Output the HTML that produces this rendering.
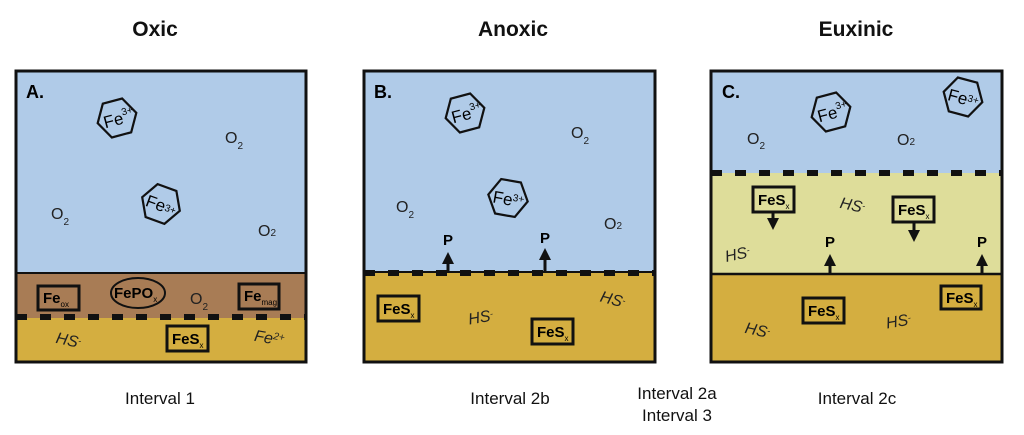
<!DOCTYPE html>
<html><head><meta charset="utf-8"><style>
html,body{margin:0;padding:0;background:#fff;}
svg{display:block;font-family:"Liberation Sans",sans-serif;}
.b{font-weight:bold;}
.t{font-size:21px;font-weight:bold;fill:#111;}
.c{font-size:17px;fill:#111;}
.s{font-size:16px;fill:#222;}
.bx{fill:none;stroke:#111;stroke-width:3;}
</style></head><body>
<svg width="1024" height="435" viewBox="0 0 1024 435">
<defs>
<marker id="ah" markerWidth="4" markerHeight="4" refX="2" refY="2" orient="auto" markerUnits="strokeWidth"><path d="M0,0 L4,2 L0,4 z" fill="#111"/></marker>
<g id="hex"><polygon points="-20,0 -10,-17.5 10,-17.5 20,0 10,17.5 -10,17.5" fill="none" stroke="#111" stroke-width="2.2"/></g>
</defs>
<text class="t" x="155" y="36" text-anchor="middle">Oxic</text>
<text class="t" x="513" y="36" text-anchor="middle">Anoxic</text>
<text class="t" x="856" y="36" text-anchor="middle">Euxinic</text>

<!-- Panel A -->
<rect x="16" y="71" width="290" height="202" fill="#b0cbe8"/>
<rect x="16" y="273" width="290" height="45" fill="#a87c55"/>
<rect x="16" y="318" width="290" height="44" fill="#d4ae40"/>
<line x1="16" y1="273" x2="306" y2="273" stroke="#111" stroke-width="2"/>
<line x1="16" y1="317" x2="306" y2="317" stroke="#111" stroke-width="6" stroke-dasharray="11,13"/>
<rect x="16" y="71" width="290" height="291" fill="none" stroke="#111" stroke-width="3"/>
<text x="26" y="98" class="b" font-size="18">A.</text>
<g transform="translate(117,118) rotate(-15)"><use href="#hex"/><text x="-14" y="7" font-size="17">Fe<tspan font-size="10" dy="-8">3+</tspan></text></g>
<g transform="translate(161,204) rotate(20)"><use href="#hex"/><text x="-15" y="7" font-size="17">Fe<tspan font-size="10" dy="-2">3+</tspan></text></g>
<text class="s" x="225" y="143">O<tspan font-size="10" dy="6">2</tspan></text>
<text class="s" x="51" y="219">O<tspan font-size="10" dy="6">2</tspan></text>
<text class="s" x="258" y="236">O<tspan font-size="10">2</tspan></text>
<rect class="bx" x="38" y="286" width="41" height="24"/><text x="43" y="303" class="b" font-size="15">Fe<tspan font-size="8" dy="4" font-weight="normal">ox</tspan></text>
<ellipse cx="138" cy="293" rx="27" ry="15" fill="none" stroke="#111" stroke-width="2"/><text x="114" y="298" class="b" font-size="15">FePO<tspan font-size="8" dy="4" font-weight="normal">x</tspan></text>
<text class="s" x="190" y="304">O<tspan font-size="10" dy="6">2</tspan></text>
<rect class="bx" x="239" y="284" width="40" height="25"/><text x="244" y="301" class="b" font-size="15">Fe<tspan font-size="8" dy="4" font-weight="normal">mag</tspan></text>
<text class="s" x="56" y="345" transform="rotate(12 66 340)" font-style="italic">HS<tspan font-size="9" dy="-4">-</tspan></text>
<rect class="bx" x="167" y="326" width="41" height="25"/><text x="172" y="344" class="b" font-size="15">FeS<tspan font-size="8" dy="4" font-weight="normal">x</tspan></text>
<text class="s" x="254" y="344" transform="rotate(10 273 340)" font-style="italic">Fe<tspan font-size="10" dy="-5">2+</tspan></text>

<!-- Panel B -->
<rect x="364" y="71" width="291" height="202" fill="#b0cbe8"/>
<rect x="364" y="273" width="291" height="89" fill="#d4ae40"/>
<line x1="364" y1="272" x2="655" y2="272" stroke="#111" stroke-width="2"/>
<line x1="364" y1="273" x2="655" y2="273" stroke="#111" stroke-width="6" stroke-dasharray="11,13"/>
<rect x="364" y="71" width="291" height="291" fill="none" stroke="#111" stroke-width="3"/>
<text x="374" y="98" class="b" font-size="18">B.</text>
<g transform="translate(465,113) rotate(-15)"><use href="#hex"/><text x="-14" y="7" font-size="17">Fe<tspan font-size="10" dy="-8">3+</tspan></text></g>
<g transform="translate(508,198) rotate(10)"><use href="#hex"/><text x="-15" y="7" font-size="17">Fe<tspan font-size="10" dy="-5">3+</tspan></text></g>
<text class="s" x="571" y="138">O<tspan font-size="10" dy="6">2</tspan></text>
<text class="s" x="396" y="212">O<tspan font-size="10" dy="6">2</tspan></text>
<text class="s" x="604" y="229">O<tspan font-size="10">2</tspan></text>
<line x1="448" y1="272" x2="448" y2="258" stroke="#111" stroke-width="3" marker-end="url(#ah)"/>
<text x="443" y="245" class="b" font-size="15">P</text>
<line x1="545" y1="272" x2="545" y2="254" stroke="#111" stroke-width="3" marker-end="url(#ah)"/>
<text x="540" y="243" class="b" font-size="15">P</text>
<rect class="bx" x="378" y="296" width="41" height="25"/><text x="383" y="314" class="b" font-size="15">FeS<tspan font-size="8" dy="4" font-weight="normal">x</tspan></text>
<text class="s" x="468" y="323" transform="rotate(-10 478 317)" font-style="italic">HS<tspan font-size="9" dy="-4">-</tspan></text>
<rect class="bx" x="532" y="319" width="41" height="25"/><text x="537" y="337" class="b" font-size="15">FeS<tspan font-size="8" dy="4" font-weight="normal">x</tspan></text>
<text class="s" x="600" y="304" transform="rotate(15 610 300)" font-style="italic">HS<tspan font-size="9" dy="-4">-</tspan></text>

<!-- Panel C -->
<rect x="711" y="71" width="291" height="102" fill="#b0cbe8"/>
<rect x="711" y="173" width="291" height="101" fill="#dedd9a"/>
<rect x="711" y="274" width="291" height="88" fill="#d4ae40"/>
<line x1="711" y1="173" x2="1002" y2="173" stroke="#111" stroke-width="6" stroke-dasharray="11,13"/>
<line x1="711" y1="274" x2="1002" y2="274" stroke="#111" stroke-width="2.5"/>
<rect x="711" y="71" width="291" height="291" fill="none" stroke="#111" stroke-width="3"/>
<text x="722" y="98" class="b" font-size="18">C.</text>
<g transform="translate(831,112) rotate(-15)"><use href="#hex"/><text x="-14" y="7" font-size="17">Fe<tspan font-size="10" dy="-8">3+</tspan></text></g>
<g transform="translate(963,97) rotate(15)"><use href="#hex"/><text x="-15" y="7" font-size="17">Fe<tspan font-size="10" dy="-4">3+</tspan></text></g>
<text class="s" x="747" y="144">O<tspan font-size="10" dy="5">2</tspan></text>
<text class="s" x="897" y="145">O<tspan font-size="10">2</tspan></text>
<rect class="bx" x="753" y="187" width="41" height="25"/><text x="758" y="205" class="b" font-size="15">FeS<tspan font-size="8" dy="4" font-weight="normal">x</tspan></text>
<line x1="773" y1="212" x2="773" y2="224" stroke="#111" stroke-width="3" marker-end="url(#ah)"/>
<rect class="bx" x="893" y="197" width="41" height="25"/><text x="898" y="215" class="b" font-size="15">FeS<tspan font-size="8" dy="4" font-weight="normal">x</tspan></text>
<line x1="914" y1="222" x2="914" y2="236" stroke="#111" stroke-width="3" marker-end="url(#ah)"/>
<text class="s" x="840" y="210" transform="rotate(12 850 205)" font-style="italic">HS<tspan font-size="9" dy="-4">-</tspan></text>
<text class="s" x="725" y="260" transform="rotate(-12 735 255)" font-style="italic">HS<tspan font-size="9" dy="-4">-</tspan></text>
<line x1="830" y1="274" x2="830" y2="260" stroke="#111" stroke-width="3" marker-end="url(#ah)"/>
<text x="825" y="247" class="b" font-size="15">P</text>
<line x1="982" y1="274" x2="982" y2="260" stroke="#111" stroke-width="3" marker-end="url(#ah)"/>
<text x="977" y="247" class="b" font-size="15">P</text>
<rect class="bx" x="803" y="298" width="41" height="25"/><text x="808" y="316" class="b" font-size="15">FeS<tspan font-size="8" dy="4" font-weight="normal">x</tspan></text>
<rect class="bx" x="941" y="286" width="40" height="23"/><text x="946" y="303" class="b" font-size="15">FeS<tspan font-size="8" dy="4" font-weight="normal">x</tspan></text>
<text class="s" x="745" y="335" transform="rotate(12 755 330)" font-style="italic">HS<tspan font-size="9" dy="-4">-</tspan></text>
<text class="s" x="886" y="327" transform="rotate(-10 896 322)" font-style="italic">HS<tspan font-size="9" dy="-4">-</tspan></text>

<text class="c" x="160" y="404" text-anchor="middle">Interval 1</text>
<text class="c" x="510" y="404" text-anchor="middle">Interval 2b</text>
<text class="c" x="677" y="399" text-anchor="middle">Interval 2a</text>
<text class="c" x="677" y="421" text-anchor="middle">Interval 3</text>
<text class="c" x="857" y="404" text-anchor="middle">Interval 2c</text>
</svg>
</body></html>
